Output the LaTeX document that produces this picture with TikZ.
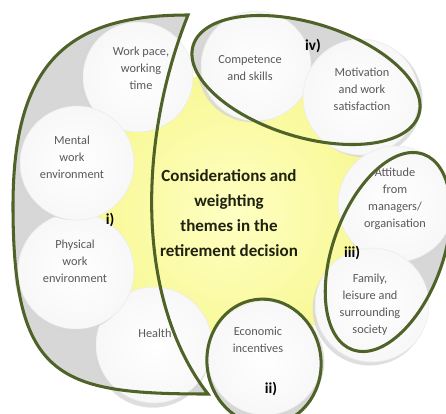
\documentclass[tikz,border=0pt]{standalone}
\usepackage{fontspec}
\setmainfont{Carlito}
\usetikzlibrary{shadows}
\definecolor{grpline}{RGB}{79,98,40}
\definecolor{grpfill}{RGB}{215,215,215}
\definecolor{disctext}{RGB}{89,89,89}
\definecolor{midyellow}{RGB}{255,255,195}
\definecolor{rimyellow}{RGB}{248,248,150}
\definecolor{titletext}{RGB}{30,34,14}
\tikzset{
  disc/.style 2 args={draw=black!8, inner color=white, outer color=black!3,
    drop shadow={shadow xshift=#1, shadow yshift=#2, fill=black!16, opacity=.8}},
  txt/.style={align=center, text=disctext, font=\fontsize{10.5}{14.5}\selectfont},
  title/.style={align=center, text=titletext, font=\fontsize{14.5}{21.3}\selectfont\bfseries},
  tag/.style={font=\fontsize{13}{13}\selectfont\bfseries},
  grp/.style={draw=grpline, line width=2.6pt},
  grpbg/.style={fill=grpfill}
}
\begin{document}
\begin{tikzpicture}[x=0.03cm, y=-0.03cm]
	\useasboundingbox (0,0) rectangle (446,413);
	
	% grey backs of the groups
	\fill[grpbg] (188,15) .. controls (70,15) and (13,60) .. (13,206)
		.. controls (13,380) and (60,394) .. (208,394)
		.. controls (135,300) and (138,140) .. (188,15) -- cycle;
	\fill[grpbg, rotate around={-17:(306,80)}] (306,80) ellipse (118 and 57);
	\fill[grpbg, rotate around={70:(388,252)}] (388,252) ellipse (104 and 55);
	\fill[grpbg, rotate around={8:(264,362)}] (264,362) ellipse (57 and 63);
	
	% yellow centre
	\shade[inner color=midyellow, outer color=rimyellow] (232,212) circle (140);
	
	% discs
	\shade[disc={-3pt}{1pt}] (138,77) circle (55);
	\shade[disc={-1pt}{-4pt}] (154,345) circle (58);
	\shade[disc={-3pt}{-3pt}] (76,271) circle (58);
	\shade[disc={-3pt}{0pt}] (77,163) circle (57);
	\shade[disc={-3pt}{-1pt}] (256,66) circle (55);
	\shade[disc={3pt}{-2pt}] (361,97) circle (58);
	\shade[disc={2pt}{-3pt}] (396,204) circle (58);
	\shade[disc={-2pt}{-3pt}] (372,305) circle (57);
	\shade[disc={2pt}{-3pt}] (265,358) circle (57);
	
	% group outlines
	\draw[grp] (188,15) .. controls (70,15) and (13,60) .. (13,206)
		.. controls (13,380) and (60,394) .. (208,394)
		.. controls (135,300) and (138,140) .. (188,15) -- cycle;
	\draw[grp, rotate around={-17:(306,80)}] (306,80) ellipse (118 and 57);
	\draw[grp, rotate around={70:(388,252)}] (388,252) ellipse (104 and 55);
	\draw[grp, rotate around={8:(264,362)}] (264,362) ellipse (57 and 63);
	
	% texts
	\node[title] (theme) at (229,213) {Considerations and\\weighting\\themes in the\\retirement decision};
	\node[txt] (wpace) at (141,68) {Work pace,\\working\\time};
	\node[txt] (mental) at (72,157) {Mental\\work\\environment};
	\node[txt] (physical) at (75,261) {Physical\\work\\environment};
	\node[txt] (health) at (155,333) {Health};
	\node[txt] (econ) at (258,340) {Economic\\incentives};
	\node[txt] (family) at (370,305) {Family,\\leisure and\\surrounding\\society};
	\node[txt] (attitude) at (395,199) {Attitude\\from\\managers/\\organisation};
	\node[txt] (motiv) at (362,89) {Motivation\\and work\\satisfaction};
	\node[txt] (compet) at (250,68) {Competence\\and skills};
	
	\node[tag] (tagi) at (110,220) {i)};
	\node[tag] (tagii) at (271,389) {ii)};
	\node[tag] (tagiii) at (352,253) {iii)};
	\node[tag] (tagiv) at (313,46) {iv)};
\end{tikzpicture}
\end{document}
